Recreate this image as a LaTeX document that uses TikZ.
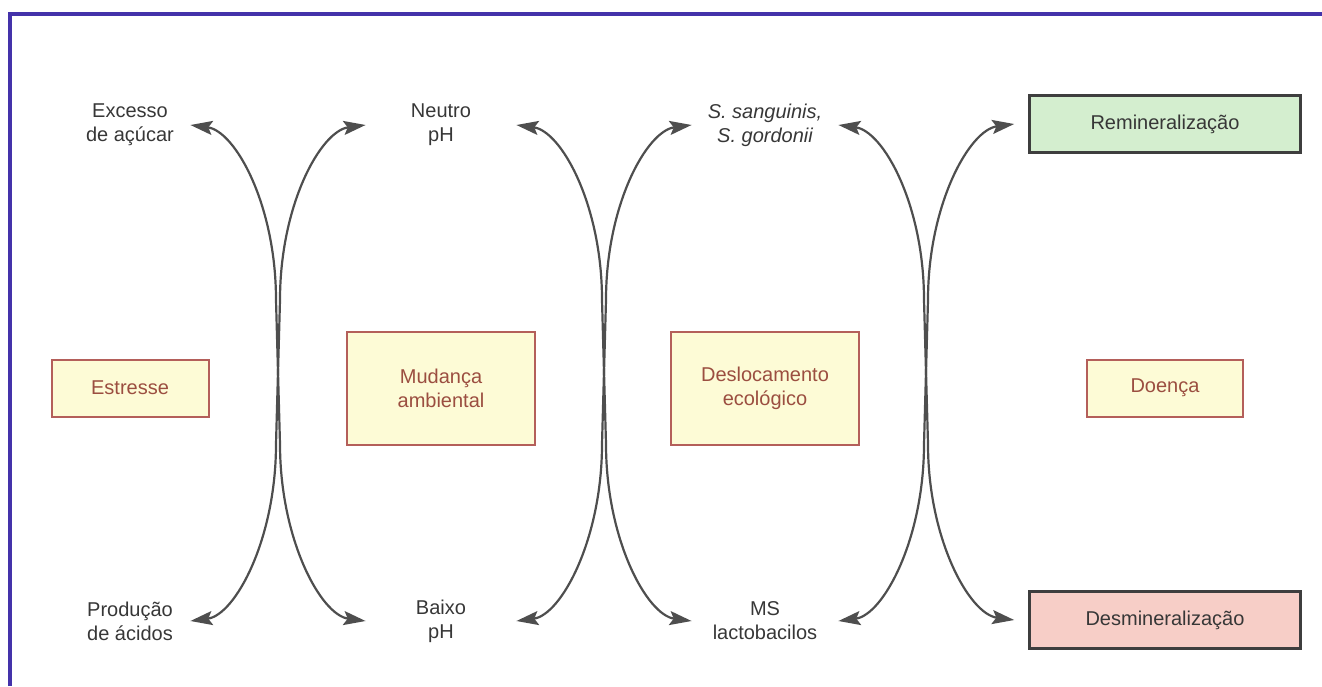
\documentclass[tikz,border=0pt]{standalone}
\usepackage{fontspec}
\setmainfont{Liberation Sans}
\usetikzlibrary{arrows.meta}
\definecolor{frameblue}{RGB}{68,50,170}
\definecolor{arrowgray}{RGB}{78,78,78}
\definecolor{lbltext}{RGB}{55,55,55}
\definecolor{boxfill}{RGB}{253,251,214}
\definecolor{boxdraw}{RGB}{180,95,90}
\definecolor{boxtext}{RGB}{155,78,64}
\definecolor{remfill}{RGB}{212,238,207}
\definecolor{desmfill}{RGB}{247,206,199}
\definecolor{darkborder}{RGB}{62,62,62}
\tikzset{
  lbl/.style={inner sep=0pt, align=center, text=lbltext, font=\fontsize{10}{12}\selectfont},
  ybox/.style={draw=boxdraw, line width=1pt, fill=boxfill, text=boxtext, align=center,
    font=\fontsize{10}{12}\selectfont, inner sep=2pt},
  rbox/.style={draw=darkborder, line width=1.3pt, text=lbltext, align=center,
    font=\fontsize{10}{12}\selectfont, minimum width=135.5pt, minimum height=28.5pt},
  conn/.style={draw=arrowgray, line width=1.1pt,
    {Stealth[length=11pt,width=7pt,inset=2pt]}-{Stealth[length=11pt,width=7pt,inset=2pt]}},
  frameline/.style={draw=frameblue, line width=1.6pt}
}
\begin{document}
\begin{tikzpicture}[x=0.5pt,y=-0.5pt]
\useasboundingbox (0,0) rectangle (1322,686);
\draw[frameline] (10,686) -- (10,14) -- (1322,14);

% top labels
\node[lbl, minimum width=60pt] (exc) at (130,125) {Excesso\\de açúcar};
\node[lbl, minimum width=75pt] (neu) at (441,125) {Neutro\\pH};
\node[lbl, minimum width=73pt] (san) at (765,125) {\itshape S. sanguinis,\\\itshape S. gordonii};
\node[rbox, fill=remfill] (rem) at (1165,124) {Remineralização};

% middle boxes
\node[ybox, minimum width=78.5pt, minimum height=28.5pt] (est) at (130,388) {Estresse};
\node[ybox, minimum width=94pt, minimum height=56.5pt] (mud) at (441,388) {Mudança\\ambiental};
\node[ybox, minimum width=94pt, minimum height=56.5pt] (des) at (765,388) {Deslocamento\\ecológico};
\node[ybox, minimum width=78pt, minimum height=28.5pt] (doe) at (1165,388) {Doença};

% bottom labels
\node[lbl, minimum width=60pt] (pro) at (130,621) {Produção\\de ácidos};
\node[lbl, minimum width=75pt] (bai) at (441,621) {Baixo\\pH};
\node[lbl, minimum width=73pt] (ms) at (765,621) {MS\\lactobacilos};
\node[rbox, fill=desmfill] (desm) at (1165,620) {Desmineralização};

% crossing points
\coordinate (a1t) at (276,300); \coordinate (a1b) at (280,444);
\coordinate (b1t) at (280,300); \coordinate (b1b) at (276,444);
\coordinate (a2t) at (602,300); \coordinate (a2b) at (606,444);
\coordinate (b2t) at (606,300); \coordinate (b2b) at (602,444);
\coordinate (a3t) at (924,300); \coordinate (a3b) at (928,444);
\coordinate (b3t) at (928,300); \coordinate (b3b) at (924,444);

% pair 1
\draw[conn] (exc.east) .. controls +(45,6) and +(0,-95) .. (a1t) -- (a1b) .. controls +(0,95) and +(-45,-6) .. (bai.west);
\draw[conn] (pro.east) .. controls +(45,-6) and +(0,95) .. (b1b) -- (b1t) .. controls +(0,-95) and +(-45,6) .. (neu.west);
% pair 2
\draw[conn] (neu.east) .. controls +(45,6) and +(0,-95) .. (a2t) -- (a2b) .. controls +(0,95) and +(-45,-6) .. (ms.west);
\draw[conn] (bai.east) .. controls +(45,-6) and +(0,95) .. (b2b) -- (b2t) .. controls +(0,-95) and +(-45,6) .. (san.west);
% pair 3
\draw[conn] (san.east) .. controls +(45,6) and +(0,-95) .. (a3t) -- (a3b) .. controls +(0,95) and +(-45,-6) .. ([xshift=-7pt]desm.west);
\draw[conn] (ms.east) .. controls +(45,-6) and +(0,95) .. (b3b) -- (b3t) .. controls +(0,-95) and +(-45,6) .. ([xshift=-7pt]rem.west);
\end{tikzpicture}
\end{document}
